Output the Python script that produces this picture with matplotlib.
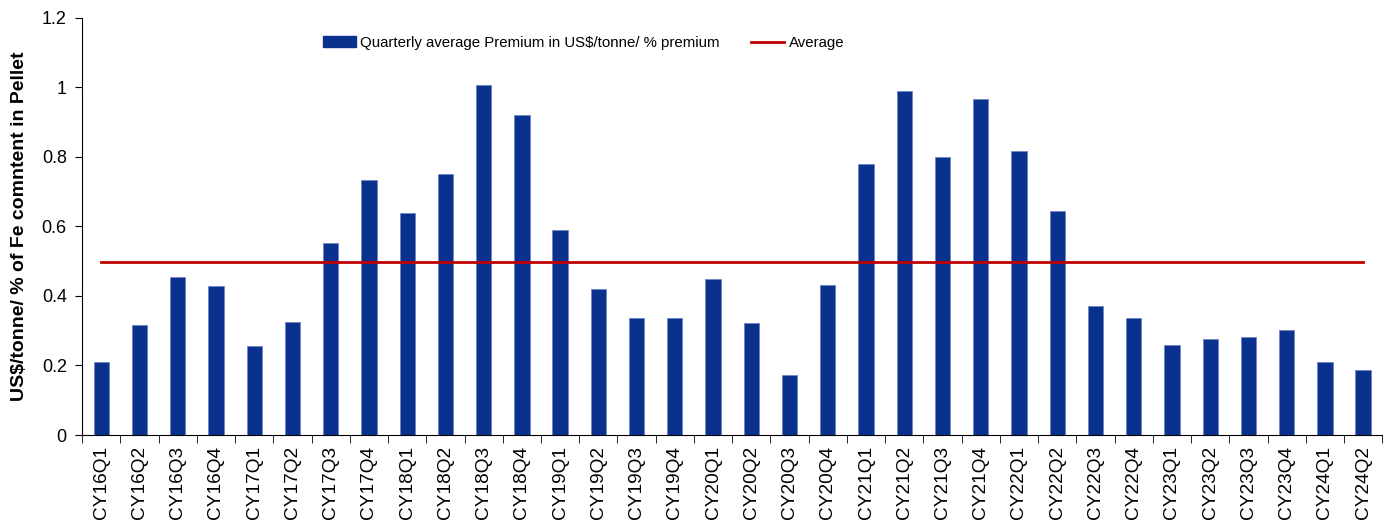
import numpy as np
from matplotlib import pyplot as plt
from matplotlib.patches import Patch
from matplotlib.lines import Line2D

plt.rcParams['font.family'] = ['Liberation Sans', 'DejaVu Sans']

quarters = ['CY16Q1', 'CY16Q2', 'CY16Q3', 'CY16Q4', 'CY17Q1', 'CY17Q2', 'CY17Q3', 'CY17Q4',
            'CY18Q1', 'CY18Q2', 'CY18Q3', 'CY18Q4', 'CY19Q1', 'CY19Q2', 'CY19Q3', 'CY19Q4',
            'CY20Q1', 'CY20Q2', 'CY20Q3', 'CY20Q4', 'CY21Q1', 'CY21Q2', 'CY21Q3', 'CY21Q4',
            'CY22Q1', 'CY22Q2', 'CY22Q3', 'CY22Q4', 'CY23Q1', 'CY23Q2', 'CY23Q3', 'CY23Q4',
            'CY24Q1', 'CY24Q2']
premium = [0.21, 0.317, 0.455, 0.429, 0.256, 0.325, 0.553, 0.734,
           0.639, 0.751, 1.007, 0.921, 0.59, 0.42, 0.337, 0.337,
           0.449, 0.322, 0.173, 0.432, 0.78, 0.99, 0.8, 0.967,
           0.817, 0.645, 0.371, 0.337, 0.259, 0.276, 0.282, 0.302,
           0.21, 0.187]
average = [0.498] * len(quarters)

bar_color = '#0b318f'
line_color = '#c00000'

fig = plt.figure(figsize=(13.92, 5.26), dpi=100)
ax = fig.add_axes([0.059, 0.173, 0.934, 0.793])

x = np.arange(len(quarters))
ax.bar(x, premium, width=0.4, color=bar_color, edgecolor='#6f86c4', linewidth=0.6)
ax.plot(x, average, color=line_color, linewidth=2)

ax.set_xlim(-0.5, len(quarters) - 0.5)
ax.set_ylim(0, 1.2)
ax.set_yticks([0, 0.2, 0.4, 0.6, 0.8, 1.0, 1.2])
ax.set_yticklabels(['0', '0.2', '0.4', '0.6', '0.8', '1', '1.2'], fontsize=13)

ax.set_xticks(x)
ax.set_xticklabels(quarters, rotation=90, fontsize=13.7)
ax.tick_params(axis='x', length=0, pad=8)
ax.set_xticks(np.arange(len(quarters) + 1) - 0.5, minor=True)
ax.tick_params(axis='x', which='minor', length=6, direction='out', color='black')
ax.tick_params(axis='y', length=5, direction='out', pad=6)

for side in ['top', 'right']:
    ax.spines[side].set_visible(False)

ax.set_ylabel('US$/tonne/ % of Fe comntent in Pellet', fontsize=14, fontweight='bold', labelpad=10)

handles = [Patch(facecolor=bar_color, edgecolor=bar_color),
           Line2D([0], [0], color=line_color, linewidth=2)]
labels = ['Quarterly average Premium in US$/tonne/ % premium', 'Average']
fig.legend(handles, labels, loc='center left', bbox_to_anchor=(0.222, 0.918), ncol=2,
           frameon=False, fontsize=10.8,
           handlelength=2.2, handleheight=0.75, handletextpad=0.3, columnspacing=2.1)

fig.savefig('out.png', dpi=100)
